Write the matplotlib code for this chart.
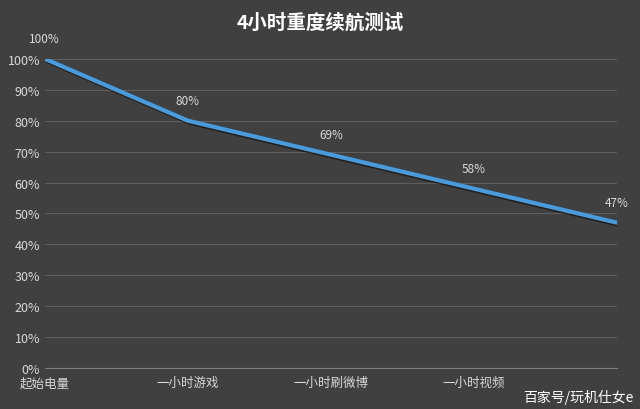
import matplotlib.pyplot as plt
import matplotlib.patheffects as pe

plt.rcParams['font.family'] = ['Noto Sans CJK SC', 'DejaVu Sans']

categories = ['起始电量', '一小时游戏', '一小时刷微博', '一小时视频', '']
values = [100, 80, 69, 58, 47]

fig = plt.figure(figsize=(6.4, 4.1), dpi=100)
fig.patch.set_facecolor('#404040')
ax = fig.add_axes([0.07, 0.1, 0.894, 0.754])
ax.set_facecolor('#404040')

x = list(range(len(values)))
ax.plot(x, values, color='#4a9bdc', lw=3, solid_capstyle='round',
        path_effects=[pe.SimpleLineShadow(offset=(1.5, -1.5), alpha=0.5), pe.Normal()])
for xi, v in zip(x, values):
    ax.annotate(f'{v}%', (xi, v), xytext=(0, 12), textcoords='offset points',
                ha='center', color='#d9d9d9', fontsize=8.5)

ax.set_xlim(0, 4)
ax.set_ylim(0, 100)
ax.set_yticks(range(0, 101, 10))
ax.set_yticklabels([f'{t}%' for t in range(0, 101, 10)])
ax.set_xticks(x)
ax.set_xticklabels(categories)
ax.tick_params(colors='#d9d9d9', labelsize=9, length=0)
ax.tick_params(axis='x', pad=6)
ax.grid(axis='y', color='#5e5e5e', lw=0.8)
for s in ['top', 'right', 'left']:
    ax.spines[s].set_visible(False)
ax.spines['bottom'].set_color('#7f7f7f')

fig.text(0.5, 0.945, '4小时重度续航测试', ha='center', va='center',
         color='white', fontsize=14, fontweight='bold')
fig.text(0.99, 0.02, '百家号/玩机仕女e', ha='right', color='white', fontsize=10)

fig.savefig('out.png', dpi=100, facecolor=fig.get_facecolor())
